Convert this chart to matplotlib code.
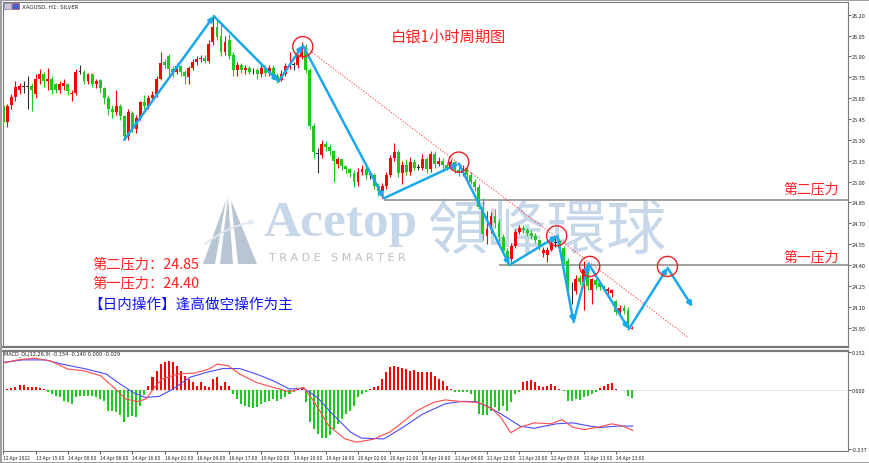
import numpy as np
import matplotlib
matplotlib.use('Agg')
import matplotlib.pyplot as plt
from matplotlib.patches import Polygon, Rectangle

plt.rcParams['font.family'] = ['Noto Sans CJK SC', 'DejaVu Sans']

# H1 bars of XAGUSD (bar index = position on the x axis)
opens = [25.54, 25.43, 25.55, 25.61, 25.66, 25.68, 25.68, 25.69, 25.63, 25.74,
         25.77, 25.72, 25.74, 25.70, 25.66, 25.69, 25.70, 25.63, 25.64, 25.79,
         25.79, 25.72, 25.77, 25.70, 25.73, 25.67, 25.60, 25.52, 25.50, 25.54,
         25.47, 25.33, 25.49, 25.38, 25.46, 25.57, 25.54, 25.60, 25.63, 25.74,
         25.86, 25.90, 25.81, 25.79, 25.83, 25.79, 25.75, 25.82, 25.86, 25.88,
         25.89, 25.87, 26.00, 26.11, 26.05, 25.93, 26.02, 25.91, 25.80, 25.84,
         25.80, 25.82, 25.80, 25.80, 25.77, 25.82, 25.78, 25.82, 25.76, 25.73,
         25.77, 25.83, 25.84, 25.84, 25.90, 25.96, 25.80, 25.40, 25.20, 25.19,
         25.27, 25.25, 25.22, 25.13, 25.16, 25.11, 25.09, 25.06, 25.00, 25.07,
         25.09, 25.05, 25.05, 24.97, 24.93, 24.97, 25.05, 25.17, 25.21, 25.06,
         25.12, 25.07, 25.14, 25.10, 25.10, 25.16, 25.09, 25.20, 25.13, 25.15,
         25.12, 25.10, 25.14, 25.08, 25.06, 25.10, 25.05, 25.00, 24.96, 24.82,
         24.61, 24.66, 24.75, 24.70, 24.60, 24.50, 24.44, 24.54, 24.64, 24.67,
         24.65, 24.63, 24.61, 24.58, 24.49, 24.47, 24.51, 24.56, 24.57, 24.52,
         24.43, 24.21, 24.21, 24.31, 24.28, 24.36, 24.22, 24.29, 24.27, 24.25,
         24.21, 24.20, 24.14, 24.06, 24.09, 24.08, 23.94]
highs = [25.56, 25.56, 25.63, 25.72, 25.71, 25.72, 25.76, 25.71, 25.77, 25.81,
         25.79, 25.82, 25.76, 25.71, 25.72, 25.74, 25.71, 25.66, 25.81, 25.84,
         25.80, 25.78, 25.78, 25.74, 25.74, 25.68, 25.62, 25.55, 25.66, 25.56,
         25.48, 25.52, 25.51, 25.48, 25.58, 25.62, 25.62, 25.65, 25.76, 25.93,
         25.88, 25.92, 25.83, 25.85, 25.84, 25.80, 25.83, 25.88, 25.90, 25.91,
         25.91, 26.02, 26.19, 26.16, 26.14, 26.05, 26.06, 25.93, 25.86, 25.85,
         25.84, 25.83, 25.82, 25.82, 25.84, 25.84, 25.84, 25.84, 25.78, 25.80,
         25.85, 25.93, 25.86, 25.92, 26.00, 25.99, 25.82, 25.42, 25.24, 25.30,
         25.29, 25.27, 25.23, 25.18, 25.17, 25.12, 25.10, 25.08, 25.10, 25.12,
         25.11, 25.07, 25.06, 24.99, 24.99, 25.07, 25.19, 25.28, 25.23, 25.15,
         25.16, 25.18, 25.16, 25.13, 25.20, 25.18, 25.22, 25.22, 25.18, 25.17,
         25.14, 25.16, 25.15, 25.13, 25.12, 25.11, 25.07, 25.02, 24.98, 24.88,
         24.79, 24.78, 24.80, 24.73, 24.62, 24.52, 24.56, 24.66, 24.69, 24.69,
         24.67, 24.65, 24.63, 24.59, 24.53, 24.53, 24.58, 24.61, 24.59, 24.54,
         24.45, 24.28, 24.33, 24.33, 24.43, 24.41, 24.31, 24.31, 24.28, 24.26,
         24.24, 24.23, 24.15, 24.11, 24.11, 24.10, 23.96]
lows = [25.40, 25.39, 25.52, 25.58, 25.63, 25.64, 25.52, 25.51, 25.60, 25.70,
        25.68, 25.66, 25.63, 25.64, 25.64, 25.66, 25.62, 25.58, 25.62, 25.77,
        25.70, 25.70, 25.68, 25.67, 25.64, 25.56, 25.48, 25.46, 25.48, 25.44,
        25.30, 25.30, 25.36, 25.35, 25.44, 25.52, 25.52, 25.58, 25.61, 25.73,
        25.82, 25.76, 25.75, 25.77, 25.76, 25.70, 25.70, 25.80, 25.84, 25.86,
        25.85, 25.85, 25.98, 26.02, 25.90, 25.91, 25.88, 25.76, 25.76, 25.78,
        25.77, 25.77, 25.77, 25.74, 25.75, 25.76, 25.76, 25.74, 25.71, 25.72,
        25.76, 25.81, 25.80, 25.82, 25.88, 25.78, 25.38, 25.17, 25.06, 25.17,
        25.22, 25.19, 25.00, 25.10, 25.08, 25.06, 25.03, 24.96, 24.97, 25.05,
        25.02, 25.02, 24.95, 24.90, 24.88, 24.95, 25.03, 25.15, 25.03, 24.98,
        25.05, 25.05, 25.08, 25.08, 25.08, 25.06, 25.07, 25.10, 25.11, 25.09,
        25.08, 25.09, 25.06, 25.04, 25.04, 25.02, 24.98, 24.93, 24.80, 24.58,
        24.55, 24.63, 24.67, 24.57, 24.48, 24.40, 24.42, 24.52, 24.62, 24.63,
        24.61, 24.59, 24.56, 24.51, 24.46, 24.42, 24.50, 24.53, 24.50, 24.41,
        24.20, 24.12, 24.19, 24.26, 24.08, 24.22, 24.12, 24.23, 24.22, 24.21,
        24.19, 24.17, 24.04, 24.04, 24.05, 23.93, 23.94]
closes = [25.43, 25.54, 25.61, 25.68, 25.69, 25.68, 25.68, 25.66, 25.74, 25.77,
          25.72, 25.74, 25.66, 25.66, 25.70, 25.71, 25.65, 25.64, 25.79, 25.79,
          25.72, 25.77, 25.70, 25.72, 25.67, 25.60, 25.52, 25.50, 25.54, 25.47,
          25.33, 25.50, 25.38, 25.46, 25.57, 25.54, 25.60, 25.62, 25.74, 25.85,
          25.84, 25.81, 25.79, 25.83, 25.79, 25.76, 25.82, 25.86, 25.88, 25.89,
          25.87, 25.99, 26.11, 26.04, 25.93, 26.00, 25.90, 25.80, 25.84, 25.80,
          25.82, 25.79, 25.80, 25.77, 25.82, 25.78, 25.82, 25.76, 25.73, 25.77,
          25.83, 25.84, 25.84, 25.90, 25.96, 25.80, 25.40, 25.21, 25.20, 25.27,
          25.25, 25.22, 25.15, 25.16, 25.11, 25.09, 25.06, 25.00, 25.07, 25.09,
          25.05, 25.05, 24.97, 24.93, 24.97, 25.05, 25.17, 25.21, 25.06, 25.12,
          25.07, 25.14, 25.10, 25.10, 25.16, 25.09, 25.20, 25.13, 25.15, 25.12,
          25.10, 25.14, 25.08, 25.06, 25.10, 25.05, 25.00, 24.96, 24.82, 24.62,
          24.66, 24.75, 24.70, 24.60, 24.50, 24.44, 24.54, 24.64, 24.67, 24.65,
          24.63, 24.61, 24.58, 24.53, 24.51, 24.51, 24.56, 24.56, 24.52, 24.43,
          24.23, 24.21, 24.30, 24.28, 24.37, 24.25, 24.30, 24.26, 24.24, 24.23,
          24.23, 24.22, 24.06, 24.09, 24.07, 23.95, 23.95]

# MACD_DL histogram, one value per bar
macd_hist = [-0.004, 0.004,
             0.007, 0.013, 0.020, 0.020, 0.013, 0.011, 0.013, 0.007, 0.004,
             -0.009, -0.016, -0.023, -0.030, -0.043, -0.050, -0.057, -0.030, -0.026, -0.026,
             -0.026, -0.023, -0.030, -0.036, -0.043, -0.083, -0.087, -0.090, -0.101, -0.128,
             -0.110, -0.106, -0.110, -0.063, -0.020,
             0.018, 0.051, 0.078, 0.105, 0.114, 0.118, 0.112, 0.098, 0.078, 0.058,
             0.044, 0.031, 0.018, 0.031, 0.018, 0.011, 0.044, 0.051, 0.018, 0.031, 0.018,
             -0.016, -0.036, -0.057, -0.063, -0.070, -0.074, -0.070, -0.057, -0.050, -0.043,
             -0.036, -0.043, -0.036, -0.030, -0.016, -0.009,
             0.006, 0.010,
             -0.050, -0.130, -0.157, -0.177, -0.195, -0.195, -0.184, -0.157, -0.137, -0.117,
             -0.097, -0.083, -0.063, -0.030, -0.016, -0.007,
             0.004, 0.011, 0.018, 0.044, 0.071, 0.095, 0.098, 0.095, 0.091, 0.085,
             0.078, 0.082, 0.071, 0.071, 0.071, 0.071, 0.058, 0.044, 0.038, 0.018, 0.004,
             -0.007, -0.007, -0.007, -0.009, -0.016, -0.050, -0.097, -0.103, -0.101, -0.083,
             -0.070, -0.083, -0.063, -0.083, -0.050, -0.016, -0.007,
             0.031, 0.038, 0.040, 0.031, 0.018, 0.011, 0.018, 0.024, 0.018, 0.004,
             -0.003,
             -0.043, -0.043, -0.036, -0.039, -0.030, -0.023, -0.016, -0.009,
             0.007, 0.018, 0.024, 0.027, 0.004,
             0.0, 0.0,
             -0.023, -0.034]

# the two MACD lines, read at points along the panel (bar, value)
blue_bars = [0, 4.8, 10.4, 14.5, 20, 25.5, 29, 32.4, 35.2, 38.6, 42.1, 46.2, 50.3, 54.5,
             58.6, 62.7, 66.9, 71, 74.5, 77.9, 82, 86.2, 88.9, 94.4, 98.6, 104.1, 109.6,
             113.7, 117.2, 120.6, 124.8, 128.2, 131.7, 137.2, 141.3, 145.5, 148.2, 152.4, 156.2]
blue_vals = [0.112, 0.122, 0.122, 0.105, 0.087, 0.065, 0.024, -0.012, -0.030, -0.026, 0.004,
             0.051, 0.071, 0.087, 0.087, 0.065, 0.038, 0.004, 0.007, -0.030, -0.103, -0.171,
             -0.195, -0.198, -0.157, -0.097, -0.056, -0.046, -0.047, -0.070, -0.110, -0.146,
             -0.155, -0.137, -0.133, -0.146, -0.152, -0.146, -0.146]
red_bars = [0, 3.5, 7.6, 11.7, 15.9, 20, 24.1, 28.3, 30.3, 33.1, 35.5, 37.2, 39.3, 43.4,
            47.6, 51, 53.1, 55.8, 58.6, 62.7, 66.9, 71, 74.5, 77.2, 80.7, 84.8, 87.6, 91.7,
            95.8, 98.6, 102.7, 106.8, 109.6, 113.7, 117.9, 121.3, 123.4, 125.9, 128.2, 131.7,
            135.8, 138.6, 141.3, 144.1, 147.5, 151, 153.7, 156.2]
red_vals = [0.109, 0.122, 0.129, 0.118, 0.085, 0.078, 0.058, -0.003, -0.036, -0.047, -0.036,
            0.004, 0.044, 0.065, 0.069, 0.085, 0.105, 0.098, 0.065, 0.031, 0.011, -0.007,
            0.011, -0.050, -0.144, -0.198, -0.211, -0.200, -0.171, -0.137, -0.083, -0.050,
            -0.040, -0.047, -0.050, -0.077, -0.110, -0.173, -0.151, -0.133, -0.137, -0.120,
            -0.151, -0.160, -0.151, -0.137, -0.146, -0.164]

date_labels = ['12 Apr 2022', '13 Apr 15:00', '14 Apr 00:00', '14 Apr 08:00', '14 Apr 16:00',
               '18 Apr 01:00', '18 Apr 09:00', '18 Apr 17:00', '19 Apr 02:00', '19 Apr 10:00',
               '19 Apr 18:00', '20 Apr 02:00', '20 Apr 11:00', '20 Apr 19:00', '21 Apr 04:00',
               '21 Apr 12:00', '21 Apr 20:00', '22 Apr 05:00', '22 Apr 13:00', '24 Apr 23:00']
date_bars = [0, 8, 16, 24, 32, 40, 48, 56, 64, 72, 80, 88, 96, 104, 112, 120, 128, 136, 144, 152]
price_ticks = [26.20, 26.05, 25.90, 25.75, 25.60, 25.45, 25.30, 25.15, 25.00,
               24.85, 24.70, 24.55, 24.40, 24.25, 24.10, 23.95]
macd_ticks = [0.152, 0.0, -0.237]
macd_tick_labels = ['0.152', '0.000', '-0.237']

# drawn analysis: zigzag path, circled highs, trend line, resistance levels
zz_bars = [30, 52.2, 68.3, 74.3, 94.4, 113, 125.6, 137.5, 141.5, 145.2, 155.2, 164.8, 171]
zz_prices = [25.30, 26.19, 25.72, 25.98, 24.88, 25.13, 24.40, 24.61, 23.99, 24.41, 23.94, 24.38, 24.10]
circle_bars = [74.3, 113, 137.3, 145.5, 164.8]
circle_prices = [25.97, 25.14, 24.61, 24.39, 24.39]
trend_bars = [74.3, 170]
trend_prices = [25.98, 23.88]
res_levels = [24.87, 24.40]
res_start = [94.4, 123]

RED = '#ff0000'
GREEN = '#1ec81e'
ZZ_BLUE = '#1aa8ec'

W, H = 870, 464
fig = plt.figure(figsize=(W / 100, H / 100), dpi=100)
fig.patch.set_facecolor('white')


def fx(x):
    return x / W


def fy(y):
    return 1 - y / H


x_right = 209.6
ax = fig.add_axes([fx(3), fy(348), fx(845), 345 / H])
ax2 = fig.add_axes([fx(3), fy(452), fx(845), 100 / H])

# candles
o = np.array(opens)
c = np.array(closes)
bars = np.arange(len(c))
cols = np.where(c > o, RED, np.where(c < o, GREEN, '#303030'))
ax.vlines(bars, lows, highs, colors=cols, lw=0.8, zorder=3)
ax.bar(bars, np.maximum(np.abs(c - o), 0.004), bottom=np.minimum(o, c), width=0.72,
       color=cols, zorder=3)

# resistance lines
ax.hlines(res_levels, res_start, x_right, color='#9a9a9a', lw=1.3, zorder=2)

# dotted trend line
ax.plot(trend_bars, trend_prices, color='#ff3030', ls=(0, (1.2, 1.8)), lw=0.7, zorder=4)

# zigzag with arrows
for i in range(len(zz_bars) - 1):
    ax.annotate('', xy=(zz_bars[i + 1], zz_prices[i + 1]), xytext=(zz_bars[i], zz_prices[i]),
                arrowprops=dict(arrowstyle='-|>', color=ZZ_BLUE, lw=1.8, mutation_scale=7,
                                shrinkA=0, shrinkB=0), zorder=5)

ax.scatter(circle_bars, circle_prices, s=210, facecolors='none', edgecolors='#e8202a',
           linewidths=1.0, zorder=6)

ax.set_xlim(-0.1, x_right)
ax.set_ylim(23.811, 26.291)
ax.yaxis.tick_right()
ax.set_yticks(price_ticks)
ax.set_yticklabels([f'{v:.2f}' for v in price_ticks])
ax.set_xticks([])
ax.tick_params(axis='y', labelsize=4, length=2, pad=1, width=0.5, colors='#222222')

# MACD panel
hist = np.array(macd_hist)
hcols = np.where(hist >= 0, RED, GREEN)
ax2.axhline(0, color='#a8a8a8', ls=(0, (1, 2)), lw=0.6, zorder=1)
ax2.bar(np.arange(len(hist)), hist, width=0.5, color=hcols, zorder=2)
ax2.plot(blue_bars, blue_vals, color='#4a4aff', lw=0.8, zorder=3)
ax2.plot(red_bars, red_vals, color='#ff4a4a', lw=0.8, zorder=3)
ax2.set_xlim(-0.1, x_right)
ax2.set_ylim(-0.247, 0.158)
ax2.yaxis.tick_right()
ax2.set_yticks(macd_ticks)
ax2.set_yticklabels(macd_tick_labels)
ax2.set_xticks(date_bars)
ax2.set_xticklabels(date_labels, ha='left')
ax2.tick_params(axis='y', labelsize=4, length=2, pad=1, width=0.5, colors='#222222')
ax2.tick_params(axis='x', labelsize=3.5, length=2, pad=1, width=0.5, colors='#222222')

for a in (ax, ax2):
    for s in a.spines.values():
        s.set_color('#7a7a7a')
        s.set_linewidth(0.8)
ax.spines['bottom'].set_linewidth(1.6)
ax2.spines['top'].set_linewidth(1.6)

# header texts
fig.text(fx(22), fy(7), 'XAGUSD, H1: SILVER', fontsize=4, va='center', color='#222222',
         family='DejaVu Sans')
fig.patches.append(Rectangle((fx(4), fy(10)), fx(7), 6 / H, transform=fig.transFigure,
                             facecolor='#c8c8d8', edgecolor='#6060a0', lw=0.4))
fig.patches.append(Rectangle((fx(12), fy(10)), fx(7), 6 / H, transform=fig.transFigure,
                             facecolor='#4060d0', edgecolor='#c03030', lw=0.4))
fig.text(fx(4), fy(354), 'MACD_DL(12,26,9) -0.154 -0.140 0.000 -0.029', fontsize=3.6,
         va='center', color='#222222', family='DejaVu Sans')

# watermark
wm = '#c6d7e9'
ax.text(fx(341), fy(224), 'Acetop', transform=fig.transFigure, fontsize=37,
        family='Liberation Serif', weight='bold', color=wm, ha='center', va='center', zorder=1)
ax.text(fx(547), fy(232), '領峰環球', transform=fig.transFigure, fontsize=43,
        family=['Noto Sans CJK TC', 'DejaVu Sans'], color=wm, ha='center', va='center', zorder=1)
ax.text(fx(337), fy(258), 'T R A D E   S M A R T E R', transform=fig.transFigure, fontsize=8,
        family='DejaVu Sans', color='#b9bfc7', ha='center', va='center', zorder=1)
logo = '#b8c5d3'
for pts in ([(203, 265), (215, 265), (226, 201)],
            [(220, 265), (233, 265), (228, 198)],
            [(238, 265), (257, 265), (231, 201)]):
    ax.add_patch(Polygon([(fx(px), fy(py)) for px, py in pts], closed=True,
                         transform=fig.transFigure, facecolor=logo, edgecolor='none', zorder=1))
ax.annotate('', xy=(fx(258), fy(222)), xytext=(fx(203), fy(247)), xycoords='figure fraction',
            arrowprops=dict(arrowstyle='-|>', color='#dfe7f0', lw=1.5, mutation_scale=6,
                            connectionstyle='arc3,rad=-0.15'), zorder=1)

# annotations
fig.text(fx(448), fy(37), '白银1小时周期图', fontsize=11, color='#ff2020', ha='center', va='center')
fig.text(fx(811), fy(189), '第二压力', fontsize=10, color='#ff2020', ha='center', va='center')
fig.text(fx(811), fy(257), '第一压力', fontsize=10, color='#ff2020', ha='center', va='center')
fig.text(fx(92), fy(264), '第二压力：24.85', fontsize=10.3, color='#ff2020', va='center')
fig.text(fx(92), fy(283), '第一压力：24.40', fontsize=10.3, color='#ff2020', va='center')
fig.text(fx(88), fy(305), '【日内操作】逢高做空操作为主', fontsize=10.5, color='#1010ff', va='center')

fig.patch.set_edgecolor('#a0a0a0')
fig.patch.set_linewidth(1.0)
fig.savefig('out.png', dpi=100, facecolor=fig.get_facecolor(), edgecolor=fig.get_edgecolor())
